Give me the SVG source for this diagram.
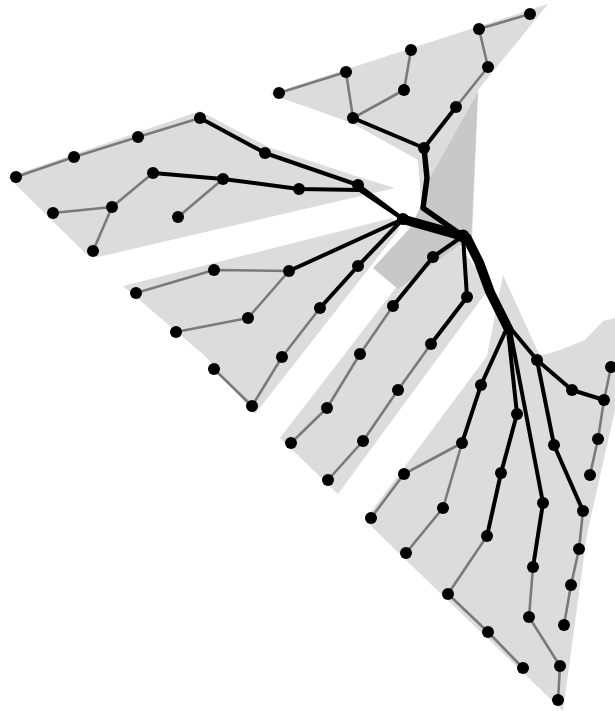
<svg xmlns="http://www.w3.org/2000/svg" width="615" height="711" viewBox="0 0 615 711">
<style>
.hull{fill:#dcdcdc;stroke:none}
.dark{fill:#c8c8c8;stroke:none}
.g{stroke:#7a7a7a;stroke-width:2.6;fill:none;stroke-linecap:round;stroke-linejoin:round}
.k{stroke:#000;stroke-width:4;fill:none;stroke-linecap:round;stroke-linejoin:round}
.n{fill:#000}
</style>
<rect width="615" height="711" fill="#fff"/>
<g id="hulls">
<polygon class="hull" points="270,94 548,4 478,90 472,240 445,238 422,215 418,160 352,123"/>
<polygon class="hull" points="8,177 200,111 268,147 362,178 395,188 98,257 86,254"/>
<polygon class="hull" points="123,286 392,218 399,230 255,414 205,356"/>
<polygon class="hull" points="280,438 338,494 490,287 455,240 425,250"/>
<polygon class="hull" points="365,520 487,356 503,275 540,356 560,350 585,340 603,321 615,318 615,410 587,534 563,711 410,564"/>
<polygon class="dark" points="478,92 471,243 458,246 398,289 373,268 410,228 421,206 430,178"/>
</g>
<g id="connectors">
<path class="g" d="M279,93 L346,72 L353,118 L404,90 L411,50"/>
<path class="k" d="M353,118 L424,148 L456,107"/>
<path class="g" d="M456,107 L488,67 L479,29 L530,14"/>
<path class="k" style="stroke-width:5.5" d="M424,148 L427,178 L423,208 L463,236"/>
<path class="g" d="M16,177 L74,157 L138,137 L200,118"/>
<path class="k" d="M200,118 L265,153 L358,185 L403,219"/>
<path class="g" d="M53,213 L112,207 L93,251 M112,207 L153,173 M178,217 L223,179"/>
<path class="k" d="M153,173 L223,179 L299,189 L360,190 L403,219"/>
<path class="k" d="M403,219 L463,236 M403,222 L463,239 M401,216 L462,233"/>
<path class="g" d="M136,293 L214,270 L289,271 M176,332 L248,318 L289,271 M214,369 L252,406 L282,357 L320,308"/>
<path class="k" d="M289,271 L403,219 M320,308 L358,266 L403,219"/>
<path class="g" d="M291,443 L327,408 L360,354 L393,306 M328,480 L363,441 L398,390 L431,344"/>
<path class="k" d="M393,306 L433,257 L463,236 M431,344 L467,297 L463,236"/>
<path class="k" d="M463,236 L476,262 L487,292 L506,330 L481,385 M465,236 L478,262 L489,292 L508,330 L517,414 M467,236 L480,262 L491,292 L510,330 L543,503 M469,236 L482,262 L493,292 L512,330 L537,360"/>
<path class="k" d="M481,385 L462,443 M517,414 L501,473 L487,536 M543,503 L533,567 M537,360 L572,390 L604,400 M537,360 L554,445 L583,511"/>
<path class="g" d="M371,518 L404,474 L462,443 L443,508 L406,553 M487,536 L448,594 L488,632 L523,668 M533,567 L529,617 L560,666 L558,700 M611,367 L604,400 L598,439 L590,475 M583,511 L579,549 L571,585 L564,625"/>
</g>
<g id="nodes" class="n">
<g id="t1"><circle cx="279" cy="93" r="6"/></g>
<g id="t2"><circle cx="346" cy="72" r="6"/></g>
<g id="t3"><circle cx="353" cy="118" r="6"/></g>
<g id="t4"><circle cx="404" cy="90" r="6"/></g>
<g id="t5"><circle cx="411" cy="50" r="6"/></g>
<g id="t6"><circle cx="424" cy="148" r="6"/></g>
<g id="t7"><circle cx="456" cy="107" r="6"/></g>
<g id="t8"><circle cx="488" cy="67" r="6"/></g>
<g id="t9"><circle cx="479" cy="29" r="6"/></g>
<g id="t10"><circle cx="530" cy="14" r="6"/></g>
<g id="hub"><circle cx="463" cy="236" r="6.5"/></g>
<g id="b1"><circle cx="16" cy="177" r="6"/></g>
<g id="b2"><circle cx="74" cy="157" r="6"/></g>
<g id="b3"><circle cx="138" cy="137" r="6"/></g>
<g id="b4"><circle cx="200" cy="118" r="6"/></g>
<g id="b5"><circle cx="265" cy="153" r="6"/></g>
<g id="b6"><circle cx="358" cy="185" r="6"/></g>
<g id="b7"><circle cx="403" cy="219" r="6"/></g>
<g id="b8"><circle cx="153" cy="173" r="6"/></g>
<g id="b9"><circle cx="223" cy="179" r="6"/></g>
<g id="b10"><circle cx="299" cy="189" r="6"/></g>
<g id="b11"><circle cx="53" cy="213" r="6"/></g>
<g id="b12"><circle cx="112" cy="207" r="6"/></g>
<g id="b13"><circle cx="93" cy="251" r="6"/></g>
<g id="b14"><circle cx="178" cy="217" r="6"/></g>
<g id="c1"><circle cx="136" cy="293" r="6"/></g>
<g id="c2"><circle cx="214" cy="270" r="6"/></g>
<g id="c3"><circle cx="289" cy="271" r="6"/></g>
<g id="c4"><circle cx="176" cy="332" r="6"/></g>
<g id="c5"><circle cx="248" cy="318" r="6"/></g>
<g id="c6"><circle cx="214" cy="369" r="6"/></g>
<g id="c7"><circle cx="252" cy="406" r="6"/></g>
<g id="c8"><circle cx="282" cy="357" r="6"/></g>
<g id="c9"><circle cx="320" cy="308" r="6"/></g>
<g id="c10"><circle cx="358" cy="266" r="6"/></g>
<g id="d1"><circle cx="291" cy="443" r="6"/></g>
<g id="d2"><circle cx="327" cy="408" r="6"/></g>
<g id="d3"><circle cx="360" cy="354" r="6"/></g>
<g id="d4"><circle cx="393" cy="306" r="6"/></g>
<g id="d5"><circle cx="433" cy="257" r="6"/></g>
<g id="d6"><circle cx="328" cy="480" r="6"/></g>
<g id="d7"><circle cx="363" cy="441" r="6"/></g>
<g id="d8"><circle cx="398" cy="390" r="6"/></g>
<g id="d9"><circle cx="431" cy="344" r="6"/></g>
<g id="d10"><circle cx="467" cy="297" r="6"/></g>
<g id="e1"><circle cx="371" cy="518" r="6"/></g>
<g id="e2"><circle cx="404" cy="474" r="6"/></g>
<g id="e3"><circle cx="462" cy="443" r="6"/></g>
<g id="e4"><circle cx="443" cy="508" r="6"/></g>
<g id="e5"><circle cx="406" cy="553" r="6"/></g>
<g id="e6"><circle cx="481" cy="385" r="6"/></g>
<g id="e7"><circle cx="487" cy="536" r="6"/></g>
<g id="e8"><circle cx="448" cy="594" r="6"/></g>
<g id="e9"><circle cx="488" cy="632" r="6"/></g>
<g id="e10"><circle cx="523" cy="668" r="6"/></g>
<g id="e11"><circle cx="517" cy="414" r="6"/></g>
<g id="e12"><circle cx="501" cy="473" r="6"/></g>
<g id="e13"><circle cx="543" cy="503" r="6"/></g>
<g id="e14"><circle cx="533" cy="567" r="6"/></g>
<g id="e15"><circle cx="529" cy="617" r="6"/></g>
<g id="e16"><circle cx="560" cy="666" r="6"/></g>
<g id="e17"><circle cx="558" cy="700" r="6"/></g>
<g id="e18"><circle cx="537" cy="360" r="6"/></g>
<g id="e19"><circle cx="572" cy="390" r="6"/></g>
<g id="e20"><circle cx="604" cy="400" r="6"/></g>
<g id="e21"><circle cx="611" cy="367" r="6"/></g>
<g id="e22"><circle cx="598" cy="439" r="6"/></g>
<g id="e23"><circle cx="590" cy="475" r="6"/></g>
<g id="e24"><circle cx="554" cy="445" r="6"/></g>
<g id="e25"><circle cx="583" cy="511" r="6"/></g>
<g id="e26"><circle cx="579" cy="549" r="6"/></g>
<g id="e27"><circle cx="571" cy="585" r="6"/></g>
<g id="e28"><circle cx="564" cy="625" r="6"/></g>
</g>
</svg>
